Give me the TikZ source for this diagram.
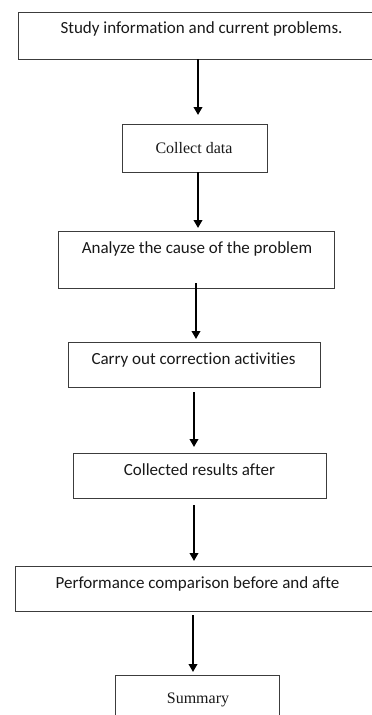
\documentclass[tikz,border=0pt]{standalone}
\usepackage{fontspec}
\setmainfont[Ligatures={NoCommon}]{Carlito}
\newfontfamily\serifb{Liberation Serif}
\usetikzlibrary{arrows.meta}
\definecolor{edge}{HTML}{3C3C3C}
\tikzset{
  box/.style={draw=edge, line width=1.3pt, rectangle, inner sep=0pt, anchor=north west},
  lbl/.style={inner sep=0pt, font=\fontsize{17}{20}\selectfont, text=black!90},
  slbl/.style={inner sep=0pt, font=\serifb\fontsize{16}{18}\selectfont, text=black!90},
  arr/.style={draw=black, line width=2pt, -{Triangle[width=8.5pt,length=8pt]}}
}
\begin{document}
\begin{tikzpicture}[x=1pt,y=-1pt]
\useasboundingbox (0,0) rectangle (372,715);
\clip (0,0) rectangle (372,715);
\fill[white] (0,0) rectangle (372,715);
% boxes
\node[box, minimum width=370pt, minimum height=47pt] (b1) at (18,12) {};
\node[box, minimum width=145pt, minimum height=48pt] (b2) at (122,124) {};
\node[box, minimum width=276pt, minimum height=57pt] (b3) at (58,231) {};
\node[box, minimum width=252pt, minimum height=45pt] (b4) at (68,342) {};
\node[box, minimum width=253pt, minimum height=45pt] (b5) at (73,453) {};
\node[box, minimum width=370pt, minimum height=45pt] (b6) at (15,566) {};
\node[box, minimum width=164pt, minimum height=60pt] (b7) at (115,675) {};
% texts
\node[lbl] (t1) at (201.5,29) {Study information and current problems.};
\node[slbl] (t2) at (194,148) {Collect data};
\node[lbl] (t3) at (197,249) {Analyze the cause of the problem};
\node[lbl] (t4) at (193.5,360) {Carry out correction activities};
\node[lbl] (t5) at (199.5,470) {Collected results after};
\node[lbl] (t6) at (197.5,584) {Performance comparison before and afte};
\node[slbl] (t7) at (198,700) {Summary};
% arrows
\coordinate (a1s) at (198,59);  \coordinate (a1e) at (198,115);
\coordinate (a2s) at (198,172); \coordinate (a2e) at (198,228);
\coordinate (a3s) at (196,283); \coordinate (a3e) at (196,339);
\coordinate (a4s) at (194,392); \coordinate (a4e) at (194,447);
\coordinate (a5s) at (194,505); \coordinate (a5e) at (194,561);
\coordinate (a6s) at (193,615); \coordinate (a6e) at (193,672);
\draw[arr] (a1s) -- (a1e);
\draw[arr] (a2s) -- (a2e);
\draw[arr] (a3s) -- (a3e);
\draw[arr] (a4s) -- (a4e);
\draw[arr] (a5s) -- (a5e);
\draw[arr] (a6s) -- (a6e);
\end{tikzpicture}
\end{document}
